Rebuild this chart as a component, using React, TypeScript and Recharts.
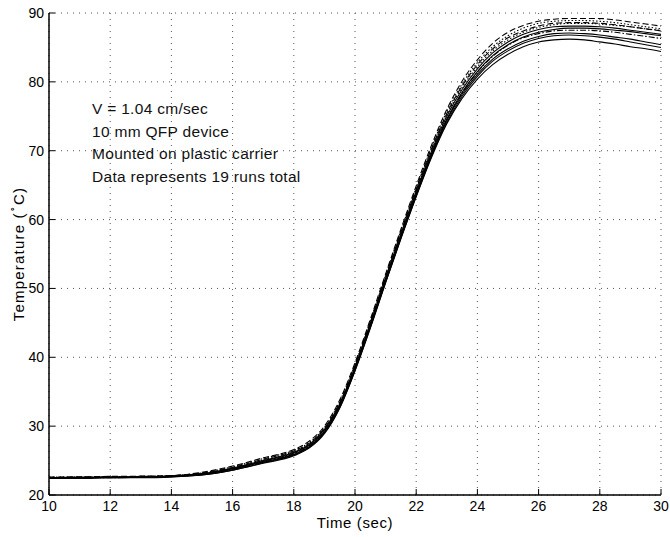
import { LineChart, Line, XAxis, YAxis, CartesianGrid, Label } from "recharts";

// sample times (sec)
const times = [
  10, 11, 12, 13, 14, 15, 16, 17, 18, 18.5, 19, 19.5, 20, 20.5, 21, 21.5, 22,
  22.5, 23, 23.5, 24, 24.5, 25, 25.5, 26, 26.5, 27, 27.5, 28, 28.5, 29, 29.5, 30,
];

// temperature runs (deg C)
const run1 = [22.4, 22.4, 22.5, 22.5, 22.6, 22.9, 23.6, 24.6, 25.7, 26.8, 28.9, 32.6, 38.0, 44.2, 50.8, 57.2, 63.3, 69.0, 73.9, 77.6, 80.4, 82.5, 84.0, 85.1, 85.8, 86.1, 86.2, 86.1, 85.8, 85.5, 85.1, 84.8, 84.4];
const run2 = [22.5, 22.5, 22.6, 22.6, 22.7, 23.0, 23.7, 24.8, 25.9, 27.0, 29.1, 32.8, 38.2, 44.5, 51.0, 57.4, 63.6, 69.4, 74.4, 78.2, 81.1, 83.3, 84.8, 85.9, 86.6, 87.0, 87.1, 87.0, 86.8, 86.5, 86.2, 85.8, 85.4];
const run3 = [22.5, 22.5, 22.6, 22.6, 22.7, 23.0, 23.8, 24.9, 26.1, 27.2, 29.3, 33.0, 38.4, 44.6, 51.2, 57.6, 63.8, 69.6, 74.6, 78.5, 81.5, 83.8, 85.4, 86.5, 87.2, 87.6, 87.8, 87.8, 87.7, 87.5, 87.3, 87.0, 86.7];
const run4 = [22.5, 22.6, 22.6, 22.7, 22.8, 23.1, 23.9, 25.0, 26.2, 27.3, 29.5, 33.2, 38.6, 44.9, 51.5, 57.9, 64.1, 69.9, 75.0, 78.9, 81.9, 84.2, 85.8, 86.9, 87.6, 88.0, 88.1, 88.1, 88.0, 87.8, 87.5, 87.2, 86.9];
const run5 = [22.5, 22.6, 22.6, 22.7, 22.8, 23.2, 24.0, 25.2, 26.4, 27.5, 29.7, 33.4, 38.8, 45.1, 51.7, 58.2, 64.4, 70.3, 75.4, 79.4, 82.5, 84.8, 86.4, 87.4, 88.1, 88.5, 88.6, 88.6, 88.5, 88.3, 88.0, 87.7, 87.4];
const run6 = [22.6, 22.6, 22.7, 22.7, 22.8, 23.3, 24.2, 25.4, 26.6, 27.8, 30.0, 33.8, 39.2, 45.5, 52.1, 58.6, 64.9, 70.8, 76.0, 80.1, 83.2, 85.6, 87.2, 88.2, 88.8, 89.1, 89.2, 89.2, 89.2, 89.0, 88.7, 88.4, 88.1];
const run7 = [22.5, 22.5, 22.6, 22.6, 22.7, 23.1, 23.9, 25.1, 26.3, 27.4, 29.6, 33.3, 38.7, 45.0, 51.6, 58.0, 64.3, 70.1, 75.2, 79.2, 82.2, 84.5, 86.1, 87.2, 87.9, 88.3, 88.5, 88.5, 88.4, 88.2, 88.0, 87.7, 87.5];
const run8 = [22.4, 22.5, 22.5, 22.6, 22.7, 23.0, 23.7, 24.8, 26.0, 27.1, 29.2, 32.9, 38.3, 44.6, 51.1, 57.5, 63.7, 69.5, 74.5, 78.4, 81.4, 83.7, 85.3, 86.4, 87.0, 87.4, 87.5, 87.5, 87.4, 87.2, 86.9, 86.6, 86.3];
const run9 = [22.5, 22.5, 22.5, 22.6, 22.7, 22.9, 23.6, 24.7, 25.8, 26.9, 29.0, 32.7, 38.1, 44.3, 50.9, 57.3, 63.4, 69.2, 74.1, 77.9, 80.8, 83.0, 84.5, 85.6, 86.3, 86.7, 86.8, 86.7, 86.5, 86.2, 85.8, 85.4, 85.0];
const run10 = [22.6, 22.6, 22.6, 22.7, 22.8, 23.2, 24.1, 25.3, 26.5, 27.6, 29.8, 33.6, 39.0, 45.3, 51.9, 58.4, 64.6, 70.5, 75.7, 79.7, 82.8, 85.1, 86.7, 87.8, 88.5, 88.8, 88.9, 88.9, 88.8, 88.6, 88.3, 88.0, 87.7];

const xTicks = [10, 12, 14, 16, 18, 20, 22, 24, 26, 28, 30];
const yTicks = [20, 30, 40, 50, 60, 70, 80, 90];

const notes = [
  "V = 1.04 cm/sec",
  "10 mm QFP device",
  "Mounted on plastic carrier",
  "Data represents 19 runs total",
];

const runs = [
  { key: "r1", values: run1, dash: undefined },
  { key: "r9", values: run9, dash: undefined },
  { key: "r2", values: run2, dash: undefined },
  { key: "r8", values: run8, dash: "6 2 1.5 2" },
  { key: "r3", values: run3, dash: undefined },
  { key: "r4", values: run4, dash: undefined },
  { key: "r7", values: run7, dash: "1.5 2" },
  { key: "r5", values: run5, dash: "6 3" },
  { key: "r10", values: run10, dash: "1.5 2" },
  { key: "r6", values: run6, dash: "6 3" },
];

const rows = times.map((t, i) => {
  const row: Record<string, number> = { t };
  runs.forEach((r) => (row[r.key] = r.values[i]));
  return row;
});

const FONT = "'Liberation Sans', Arial, Helvetica, sans-serif";

function YTitle(props: any) {
  const { viewBox } = props;
  const x = viewBox.x + 18;
  const y = viewBox.y + viewBox.height / 2;
  return (
    <text
      x={x}
      y={y}
      transform={`rotate(-90, ${x}, ${y})`}
      textAnchor="middle"
      dominantBaseline="central"
      fontSize={15}
      letterSpacing={1.2}
      fontFamily={FONT}
      fill="#000"
    >
      Temperature (
      <tspan dy={-5} fontSize={9}>
        ∘
      </tspan>
      <tspan dy={5}>C)</tspan>
    </text>
  );
}

export default function App() {
  const tickStyle = { fontSize: 14, fill: "#000", fontFamily: FONT };
  return (
    <div style={{ position: "absolute", left: 0, top: 0, width: 670, height: 537, background: "#fff" }}>
      <LineChart
        width={670}
        height={537}
        data={rows}
        margin={{ top: 13, right: 9, bottom: 0, left: 0 }}
      >
        <CartesianGrid stroke="#555" strokeDasharray="1 5" strokeWidth={1} />
        <XAxis
          dataKey="t"
          type="number"
          domain={[10, 30]}
          ticks={xTicks}
          height={42}
          tickSize={-6}
          tickMargin={12}
          stroke="#000"
          tick={tickStyle}
          axisLine={{ stroke: "#000", strokeWidth: 1.5 }}
          tickLine={{ stroke: "#000" }}
        >
          <Label
            value="Time (sec)"
            position="insideBottom"
            offset={9}
            style={{ fontSize: 15, letterSpacing: 0.6, fill: "#000", fontFamily: FONT }}
          />
        </XAxis>
        <XAxis
          xAxisId="top"
          orientation="top"
          dataKey="t"
          type="number"
          domain={[10, 30]}
          ticks={xTicks}
          height={0}
          tickSize={-6}
          tickFormatter={() => ""}
          axisLine={{ stroke: "#000", strokeWidth: 1.5 }}
          tickLine={{ stroke: "#000" }}
        />
        <YAxis
          type="number"
          domain={[20, 90]}
          ticks={yTicks}
          width={49}
          tickSize={-6}
          tickMargin={11}
          tick={tickStyle}
          axisLine={{ stroke: "#000", strokeWidth: 1.5 }}
          tickLine={{ stroke: "#000" }}
          label={<YTitle />}
        />
        <YAxis
          yAxisId="right"
          orientation="right"
          type="number"
          domain={[20, 90]}
          ticks={yTicks}
          width={0}
          tickSize={-6}
          tickFormatter={() => ""}
          axisLine={{ stroke: "#000", strokeWidth: 1.5 }}
          tickLine={{ stroke: "#000" }}
        />
        {runs.map((r) => (
          <Line
            key={r.key}
            dataKey={r.key}
            type="monotone"
            stroke="#000"
            strokeWidth={1.1}
            strokeDasharray={r.dash}
            dot={false}
            activeDot={false}
            isAnimationActive={false}
          />
        ))}
      </LineChart>
      <div
        style={{
          position: "absolute",
          left: 92,
          top: 98,
          fontFamily: FONT,
          fontSize: 15.5,
          letterSpacing: 0.3,
          lineHeight: "22.7px",
          color: "#111",
          whiteSpace: "nowrap",
        }}
      >
        {notes.map((n) => (
          <div key={n}>{n}</div>
        ))}
      </div>
    </div>
  );
}
